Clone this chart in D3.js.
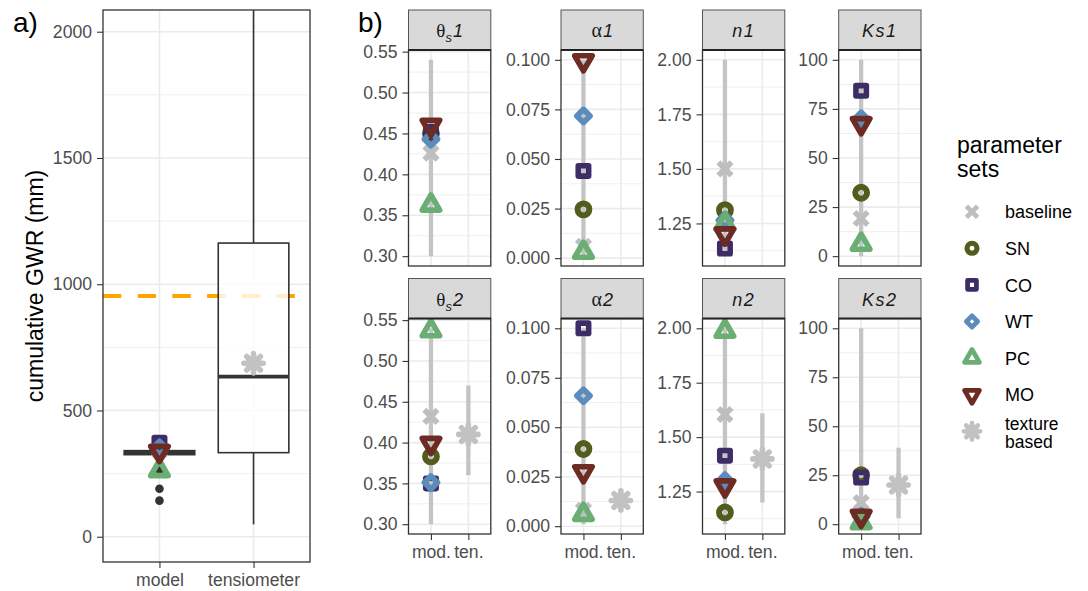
<!DOCTYPE html>
<html><head><meta charset="utf-8">
<script src="https://cdn.jsdelivr.net/npm/d3@7"></script>
<style>
body{margin:0;background:#fff;}
svg{display:block;font-family:"Liberation Sans",Arial,Helvetica,sans-serif;}
</style></head><body>
<svg id="chart" width="1088" height="591"></svg>
<script>
// ---------------- data ----------------
const paramSets = ["baseline", "SN", "CO", "WT", "PC", "MO"];
const setShapes = ["cross", "circle", "square", "diamond", "triUp", "triDown"];
const setColors = ["#bebebe", "#525c1c", "#3e2c66", "#5b8cbb", "#6aae74", "#6e2b24"];
const textureLabel = "texture based";
const textureColor = "#c2c2c2";

// panel a: cumulative groundwater recharge
const gwrCategories = ["model", "tensiometer"];
const gwrModelBox = [322, 325, 333, 341, 346];      // whisker lo, q1, median, q3, whisker hi
const gwrModelOutliers = [385, 265, 190, 143];
const gwrTensBox = [49, 333, 634, 1163, 2300];
const gwrModelPoints = [340, 344, 372, 352, 262, 338]; // per parameter set
const gwrTexture = 687;
const gwrObserved = 953;
const gwrLimits = [-100, 2086];
const gwrTicks = [0, 500, 1000, 1500, 2000];

// panel b: hydraulic parameters per parameter set
const paramNames = ["θs1", "α1", "n1", "Ks1", "θs2", "α2", "n2", "Ks2"];
const valsThetaS1 = [0.426, 0.450, 0.452, 0.443, 0.3625, 0.460];
const valsAlpha1  = [0.006, 0.0246, 0.044, 0.0717, 0.003, 0.0995];
const valsN1      = [1.50, 1.311, 1.135, 1.265, 1.247, 1.202];
const valsKs1     = [19.2, 32.3, 84.2, 70, 6.1, 67.5];
const valsThetaS2 = [0.432, 0.383, 0.350, 0.351, 0.537, 0.399];
const valsAlpha2  = [0.008, 0.039, 0.100, 0.0659, 0.006, 0.0275];
const valsN2      = [1.604, 1.154, 1.415, 1.300, 1.987, 1.276];
const valsKs2     = [11, 25, 23.8, 4, 0.8, 4];
const modelRangeLo = [0.30, 0.001, 1.10, 0, 0.30, 0.001, 1.10, 0];
const modelRangeHi = [0.54, 0.100, 2.00, 100, 0.54, 0.100, 2.00, 100];
const textureValue = [null, null, null, null, 0.41, 0.013, 1.40, 20];
const textureLo    = [null, null, null, null, 0.36, 0.0105, 1.20, 3];
const textureHi    = [null, null, null, null, 0.47, 0.0155, 1.61, 39];
const xCategories = ["mod.", "ten."];
const ticksTheta = [0.30, 0.35, 0.40, 0.45, 0.50, 0.55];
const ticksAlpha = [0, 0.025, 0.05, 0.075, 0.1];
const ticksN     = [1.25, 1.50, 1.75, 2.00];
const ticksKs    = [0, 25, 50, 75, 100];

// ---------------- helpers ----------------
const svg = d3.select("#chart");
const TICK_FONT = 17.6;
const GRID = "#ebebeb";
const INK = "#333333";

function markerPath(shape, s) {
  const p = d3.path();
  if (shape === "cross") {
    const r = 6.6 * s;
    p.moveTo(-r, -r); p.lineTo(r, r); p.moveTo(-r, r); p.lineTo(r, -r);
  } else if (shape === "asterisk") {
    const r = 9.6 * s, d = r * Math.SQRT1_2;
    p.moveTo(0, -r); p.lineTo(0, r); p.moveTo(-r, 0); p.lineTo(r, 0);
    p.moveTo(-d, -d); p.lineTo(d, d); p.moveTo(-d, d); p.lineTo(d, -d);
  } else if (shape === "circle") {
    const r = 5.9 * s;
    p.moveTo(r, 0); p.arc(0, 0, r, 0, 2 * Math.PI);
  } else if (shape === "square") {
    const h = 5.2 * s;
    p.rect(-h, -h, 2 * h, 2 * h);
  } else if (shape === "diamond") {
    const h = 6.6 * s;
    p.moveTo(0, -h); p.lineTo(h, 0); p.lineTo(0, h); p.lineTo(-h, 0); p.closePath();
  } else {
    const a = 17.5 * s, k = a / (2 * Math.sqrt(3)), dir = shape === "triUp" ? 1 : -1;
    p.moveTo(0, -2 * k * dir); p.lineTo(a / 2, k * dir); p.lineTo(-a / 2, k * dir); p.closePath();
  }
  return p.toString();
}
function strokeWidth(shape, s) {
  const w = {cross: 5.6, asterisk: 5.6, circle: 6, square: 5.6, diamond: 5.6, triUp: 5.6, triDown: 5.6}[shape];
  return w * s;
}
function drawMarker(g, shape, color, x, y, s = 1) {
  g.append("path")
    .attr("d", markerPath(shape, s))
    .attr("transform", `translate(${x},${y})`)
    .attr("fill", "none")
    .attr("stroke", color)
    .attr("stroke-width", strokeWidth(shape, s))
    .attr("stroke-linejoin", "round")
    .attr("stroke-linecap", shape === "asterisk" ? "round" : "butt");
}
function minorBreaks(ticks, domain) {
  const step = ticks[1] - ticks[0];
  const out = [];
  const cands = [ticks[0] - step / 2].concat(ticks.map(t => t + step / 2));
  cands.forEach(v => { if (v > domain[0] && v < domain[1]) out.push(v); });
  return out;
}
function styleAxis(g) {
  g.select(".domain").remove();
  g.selectAll(".tick line").attr("stroke", INK).attr("stroke-width", 1.1);
  g.selectAll(".tick text").attr("fill", "#4d4d4d").attr("font-size", TICK_FONT)
    .attr("font-family", "Liberation Sans, Arial, sans-serif");
}

// ---------------- panel a ----------------
const aL = 103, aR = 310, aT = 10, aB = 562;
const xA = d3.scalePoint().domain(gwrCategories).range([aL, aR]).padding(0.6);
const yA = d3.scaleLinear().domain(gwrLimits).range([aB, aT]);
const stepA = xA.step();

svg.append("defs").append("clipPath").attr("id", "clipA")
  .append("rect").attr("x", aL).attr("y", aT).attr("width", aR - aL).attr("height", aB - aT);

const pa = svg.append("g").attr("clip-path", "url(#clipA)");
pa.append("rect").attr("x", aL).attr("y", aT).attr("width", aR - aL).attr("height", aB - aT).attr("fill", "#fff");
pa.selectAll(".minor").data(minorBreaks(gwrTicks, gwrLimits)).join("line")
  .attr("x1", aL).attr("x2", aR).attr("y1", d => yA(d)).attr("y2", d => yA(d))
  .attr("stroke", GRID).attr("stroke-width", 0.8);
pa.selectAll(".major").data(gwrTicks).join("line")
  .attr("x1", aL).attr("x2", aR).attr("y1", d => yA(d)).attr("y2", d => yA(d))
  .attr("stroke", GRID).attr("stroke-width", 1.6);
pa.selectAll(".vgrid").data(gwrCategories).join("line")
  .attr("x1", d => xA(d)).attr("x2", d => xA(d)).attr("y1", aT).attr("y2", aB)
  .attr("stroke", GRID).attr("stroke-width", 1.6);

// observed recharge
pa.append("line")
  .attr("x1", aL).attr("x2", aR).attr("y1", yA(gwrObserved)).attr("y2", yA(gwrObserved))
  .attr("stroke", "#ffa500").attr("stroke-width", 4).attr("stroke-dasharray", "18.3 16.4");

// boxplots
[[gwrCategories[0], gwrModelBox], [gwrCategories[1], gwrTensBox]].forEach(([cat, b]) => {
  const cx = xA(cat), hw = stepA * 0.75 / 2;
  pa.append("line").attr("x1", cx).attr("x2", cx).attr("y1", yA(b[3])).attr("y2", yA(b[4]))
    .attr("stroke", INK).attr("stroke-width", 1.6);
  pa.append("line").attr("x1", cx).attr("x2", cx).attr("y1", yA(b[1])).attr("y2", yA(b[0]))
    .attr("stroke", INK).attr("stroke-width", 1.6);
  pa.append("rect").attr("x", cx - hw).attr("y", yA(b[3])).attr("width", 2 * hw)
    .attr("height", yA(b[1]) - yA(b[3]))
    .attr("fill", "#fff").attr("fill-opacity", 0.8).attr("stroke", INK).attr("stroke-width", 1.6);
  pa.append("line").attr("x1", cx - hw).attr("x2", cx + hw).attr("y1", yA(b[2])).attr("y2", yA(b[2]))
    .attr("stroke", INK).attr("stroke-width", 3.8);
});
pa.selectAll(".outlier").data(gwrModelOutliers).join("circle")
  .attr("cx", xA("model")).attr("cy", d => yA(d)).attr("r", 4.3).attr("fill", INK);

// parameter-set points
gwrModelPoints.forEach((v, i) => drawMarker(pa, setShapes[i], setColors[i], xA("model"), yA(v)));
drawMarker(pa, "asterisk", textureColor, xA("tensiometer"), yA(gwrTexture));

svg.append("rect").attr("x", aL).attr("y", aT).attr("width", aR - aL).attr("height", aB - aT)
  .attr("fill", "none").attr("stroke", INK).attr("stroke-width", 1.3);

svg.append("g").attr("transform", `translate(${aL},0)`)
  .call(d3.axisLeft(yA).tickValues(gwrTicks).tickSize(6).tickPadding(5).tickFormat(d3.format("d")))
  .call(styleAxis);
svg.append("g").attr("transform", `translate(0,${aB})`)
  .call(d3.axisBottom(xA).tickSize(6).tickPadding(6))
  .call(styleAxis);

svg.append("text").attr("transform", `translate(43,${(aT + aB) / 2}) rotate(-90)`)
  .attr("text-anchor", "middle").attr("font-size", 23).attr("fill", "#000")
  .text("cumulative GWR (mm)");
svg.append("text").attr("x", 13).attr("y", 32).attr("font-size", 28).text("a)");
svg.append("text").attr("x", 358).attr("y", 32).attr("font-size", 28).text("b)");

// ---------------- panel b ----------------
const paramVals = [valsThetaS1, valsAlpha1, valsN1, valsKs1, valsThetaS2, valsAlpha2, valsN2, valsKs2];
const paramTicks = [ticksTheta, ticksAlpha, ticksN, ticksKs, ticksTheta, ticksAlpha, ticksN, ticksKs];
const paramFormats = [".2f", ".3f", ".2f", "d", ".2f", ".3f", ".2f", "d"];

const colLefts = [408.5, 561, 702.5, 838.7];
const panelW = 82.3;
const stripTops = [10, 278.5];
const stripH = 40;
const plotBottoms = [266, 534];

function stripText(g, name, cx, y) {
  const t = g.append("text").attr("x", cx).attr("y", y).attr("text-anchor", "middle")
    .attr("font-size", 18).attr("fill", "#1a1a1a");
  const digit = name.slice(-1);
  if (name.startsWith("θs")) {
    t.append("tspan").attr("font-family", "Liberation Serif, Times New Roman, serif").attr("font-size", 19).text("θ");
    t.append("tspan").attr("font-style", "italic").attr("font-size", 13).attr("dy", 5).text("s");
    t.append("tspan").attr("font-style", "italic").attr("dy", -5).attr("dx", 1).text(digit);
  } else if (name.startsWith("α")) {
    t.append("tspan").attr("font-family", "Liberation Serif, Times New Roman, serif").attr("font-size", 20).text("α");
    t.append("tspan").attr("font-style", "italic").attr("dx", 1).text(digit);
  } else {
    t.append("tspan").attr("font-style", "italic").attr("letter-spacing", 1.5).text(name);
  }
}

paramNames.forEach((name, pi) => {
  const row = Math.floor(pi / 4), col = pi % 4;
  const left = colLefts[col], right = left + panelW;
  const sTop = stripTops[row], top = sTop + stripH, bottom = plotBottoms[row];
  const vals = paramVals[pi];
  const hasTex = textureValue[pi] !== null;

  const all = vals.concat([modelRangeLo[pi], modelRangeHi[pi]]);
  if (hasTex) all.push(textureValue[pi], textureLo[pi], textureHi[pi]);
  const [lo, hi] = d3.extent(all);
  const pad = (hi - lo) * 0.05;
  const domain = [lo - pad, hi + pad];

  const x = d3.scalePoint().domain(xCategories).range([left, right]).padding(0.6);
  const y = d3.scaleLinear().domain(domain).range([bottom, top]);
  const ticks = paramTicks[pi];

  const clipId = "clipB" + pi;
  svg.select("defs").append("clipPath").attr("id", clipId)
    .append("rect").attr("x", left).attr("y", top).attr("width", panelW).attr("height", bottom - top);
  const g = svg.append("g").attr("clip-path", `url(#${clipId})`);

  g.selectAll(".minor").data(minorBreaks(ticks, domain)).join("line")
    .attr("x1", left).attr("x2", right).attr("y1", d => y(d)).attr("y2", d => y(d))
    .attr("stroke", GRID).attr("stroke-width", 0.8);
  g.selectAll(".major").data(ticks).join("line")
    .attr("x1", left).attr("x2", right).attr("y1", d => y(d)).attr("y2", d => y(d))
    .attr("stroke", GRID).attr("stroke-width", 1.6);
  g.selectAll(".vgrid").data(xCategories).join("line")
    .attr("x1", d => x(d)).attr("x2", d => x(d)).attr("y1", top).attr("y2", bottom)
    .attr("stroke", GRID).attr("stroke-width", 1.6);

  // parameter ranges
  g.append("line").attr("x1", x("mod.")).attr("x2", x("mod."))
    .attr("y1", y(modelRangeLo[pi])).attr("y2", y(modelRangeHi[pi]))
    .attr("stroke", "#c4c4c4").attr("stroke-width", 4.3);
  if (hasTex) {
    g.append("line").attr("x1", x("ten.")).attr("x2", x("ten."))
      .attr("y1", y(textureLo[pi])).attr("y2", y(textureHi[pi]))
      .attr("stroke", "#c4c4c4").attr("stroke-width", 4.3);
  }
  vals.forEach((v, i) => drawMarker(g, setShapes[i], setColors[i], x("mod."), y(v)));
  if (hasTex) drawMarker(g, "asterisk", textureColor, x("ten."), y(textureValue[pi]));

  // panel frame and strip
  svg.append("rect").attr("x", left).attr("y", top).attr("width", panelW).attr("height", bottom - top)
    .attr("fill", "none").attr("stroke", INK).attr("stroke-width", 1.3);
  svg.append("rect").attr("x", left).attr("y", sTop).attr("width", panelW).attr("height", stripH)
    .attr("fill", "#d9d9d9").attr("stroke", "#555").attr("stroke-width", 1);
  svg.append("line").attr("x1", left).attr("x2", right).attr("y1", top).attr("y2", top)
    .attr("stroke", "#222").attr("stroke-width", 2.2);
  stripText(svg, name, left + panelW / 2, sTop + 27);

  svg.append("g").attr("transform", `translate(${left},0)`)
    .call(d3.axisLeft(y).tickValues(ticks).tickSize(6).tickPadding(5).tickFormat(d3.format(paramFormats[pi])))
    .call(styleAxis);
  if (row === 1) {
    svg.append("g").attr("transform", `translate(0,${bottom})`)
      .call(d3.axisBottom(x).tickSize(6).tickPadding(6))
      .call(styleAxis);
  }
});

// ---------------- legend ----------------
const lg = svg.append("g");
lg.append("text").attr("x", 957).attr("y", 153).attr("font-size", 23).text("parameter");
lg.append("text").attr("x", 957).attr("y", 177).attr("font-size", 23).text("sets");
const legendKeys = paramSets.map((s, i) => ({label: s, shape: setShapes[i], color: setColors[i]}))
  .concat([{label: textureLabel, shape: "asterisk", color: textureColor}]);
legendKeys.forEach((k, i) => {
  const ky = 211.7 + 36.6 * i;
  drawMarker(lg, k.shape, k.color, 972, ky, 0.85);
  const words = k.label.split(" ");
  if (words.length === 1) {
    lg.append("text").attr("x", 1005).attr("y", ky + 6.6).attr("font-size", 18).text(k.label);
  } else {
    words.forEach((w, j) => lg.append("text").attr("x", 1005).attr("y", ky - 1.5 + j * 18.5)
      .attr("font-size", 17.5).text(w));
  }
});
</script>
</body></html>
